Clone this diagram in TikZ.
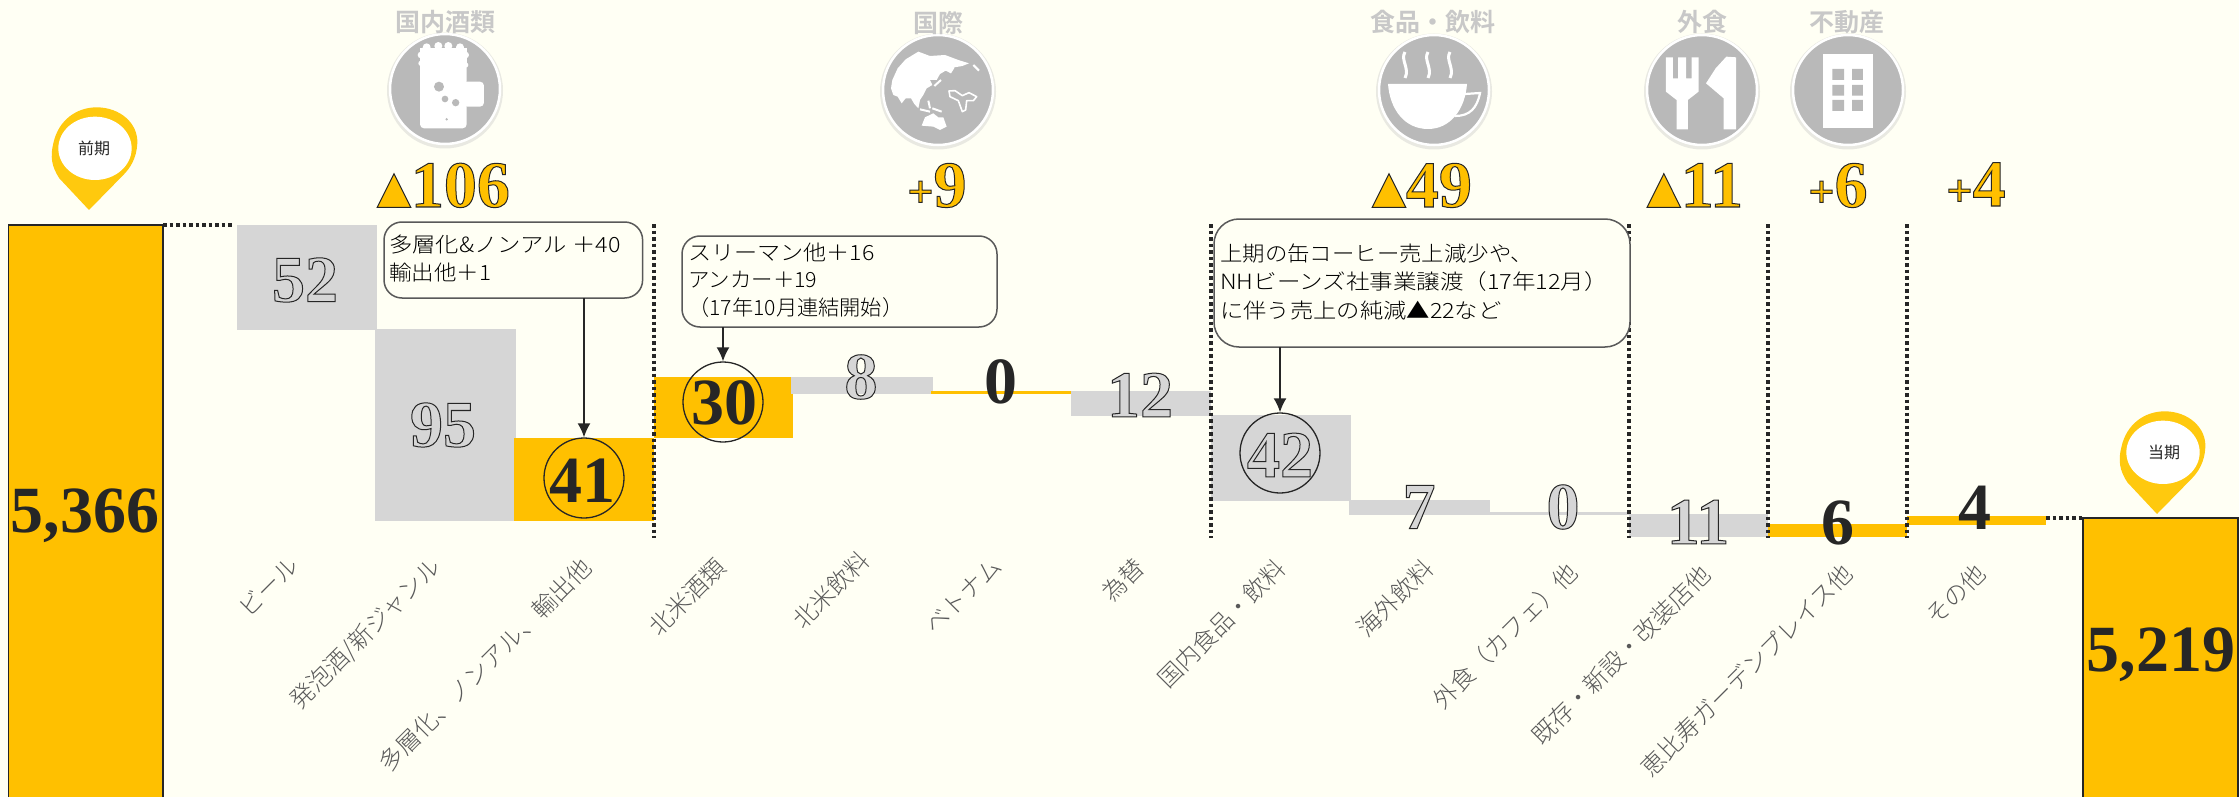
\documentclass[tikz,border=0pt]{standalone}
\usepackage{fontspec}
\usetikzlibrary{arrows.meta}
\newfontfamily\jpfont{Noto Sans CJK JP Light}
\newfontfamily\jpbold{Noto Sans CJK JP}
\newfontfamily\catfont{Noto Sans CJK JP Bold}
\newfontfamily\numfont{Liberation Serif Bold}
\newfontfamily\blkfont{Liberation Serif Bold}
\newfontfamily\trifont{DejaVu Sans}
\definecolor{bgc}{HTML}{FFFFF4}
\definecolor{orng}{HTML}{FFC000}
\definecolor{barg}{HTML}{D6D6D6}
\definecolor{darkc}{HTML}{262626}
\definecolor{iconc}{HTML}{B9B9B9}
\definecolor{catc}{HTML}{C8C8C8}
\definecolor{lblc}{HTML}{595959}
\definecolor{pinc}{HTML}{FFC90E}
\definecolor{shad}{HTML}{E9E9E2}
\newcommand{\gnum}[1]{\color{barg}\special{pdf:code 2 Tr 1.0 w 0.15 0.15 0.15 RG}#1\special{pdf:code 0 Tr}}
\newcommand{\snum}[1]{\color{orng}\special{pdf:code 2 Tr 1.0 w 0.15 0.15 0.15 RG}#1\special{pdf:code 0 Tr}}
\newcommand{\tsign}{{\trifont\fontsize{44}{44}\selectfont\raisebox{5pt}{▲}}}
\newcommand{\psign}{{\numfont\fontsize{46}{46}\selectfont +}}
\tikzset{
  x=1pt,y=-1pt,
  graybar/.style={fill=barg,draw=none},
  orngbar/.style={fill=orng,draw=none},
  totalbar/.style={fill=orng,draw=darkc,line width=1.5pt},
  dots/.style={draw=darkc,line width=4pt,dash pattern=on 3.5pt off 3pt},
  blacknum/.style={font=\blkfont\fontsize{66}{66}\selectfont,text=darkc,inner sep=0pt},
  graynum/.style={font=\numfont\fontsize{66}{66}\selectfont,inner sep=0pt},
  sumnum/.style={font=\numfont\fontsize{66}{66}\selectfont,inner sep=0pt,anchor=base},
  callout/.style={draw=lblc,line width=1.5pt,rounded corners=18pt,fill=bgc},
  calltext/.style={font=\jpfont\fontsize{21}{21}\selectfont,text=black,anchor=west,inner sep=0pt,transform shape},
  ring/.style={circle,draw=darkc,line width=1.3pt,minimum size=80pt,inner sep=0pt},
  cat/.style={font=\catfont\fontsize{25}{25}\selectfont,text=catc,inner sep=0pt},
  lbl/.style={font=\jpfont\fontsize{24}{24}\selectfont,text=lblc,rotate=45,anchor=east,inner sep=0pt},
  arr/.style={draw=darkc,line width=1.8pt,-{Latex[length=14pt,width=13pt]}},
  disc/.style={fill=iconc,draw=white,line width=2.5pt},
  icw/.style={fill=white,draw=none},
  pintext/.style={font=\jpbold\fontsize{16}{16}\selectfont,text=darkc,inner sep=0pt},
  pinshape/.pic={
    \begin{scope}[x=0.3333pt,y=-0.3333pt]
    \fill[pinc] (147,330) -- (58,235) .. controls (35,200) and (30,170) .. (40,130) .. controls (55,60) and (110,22) .. (170,22) .. controls (240,22) and (295,70) .. (292,130) .. controls (290,175) and (270,205) .. (250,225) -- cycle;
    \fill[white] (165,145) ellipse (110 and 95);
    \end{scope}
  },
}
\begin{document}
\begin{tikzpicture}
\useasboundingbox (0,0) rectangle (2239,797);
\fill[bgc] (0,0) rectangle (2239,797);
% bars
\draw[totalbar] (8.6,225) rectangle (163,798);
\draw[totalbar] (2083,518) rectangle (2238,798);
\fill[graybar] (237,225) rectangle (376.6,330);
\fill[graybar] (375,329) rectangle (516,521);
\fill[orngbar] (514,438) rectangle (654,521);
\fill[orngbar] (654,377) rectangle (793,438);
\fill[graybar] (791,377) rectangle (933,394);
\fill[orngbar] (931,391) rectangle (1071,394);
\fill[graybar] (1071,391) rectangle (1211,416);
\fill[graybar] (1211,415) rectangle (1350.5,501);
\fill[graybar] (1349,500) rectangle (1490,515);
\fill[graybar] (1490,512) rectangle (1629,515);
\fill[graybar] (1629,514) rectangle (1768,537);
\fill[orngbar] (1768,524) rectangle (1907,537);
\fill[orngbar] (1907,516) rectangle (2046,525);
% dotted
\coordinate (d1a) at (163,225); \coordinate (d1b) at (232,225);
\coordinate (d2a) at (2046,518); \coordinate (d2b) at (2083,518);
\draw[dots] (d1a) -- (d1b);
\draw[dots] (d2a) -- (d2b);
\foreach \X in {654,1211,1629,1768,1907}{\draw[dots] (\X,224) -- (\X,538);}
% icons
\foreach \X/\Y in {445/89,938/90,1434/90,1702/90,1848/90}{
  \fill[shad] (\X,\Y+1.5) circle (58);
  \draw[disc] (\X,\Y) circle (55);
}
% beer
\begin{scope}[shift={(385,30)},x=0.3333pt,y=-0.3333pt]
\fill[icw,rounded corners=4pt] (105,90) rectangle (245,295);
\fill[icw,rounded corners=4pt] (235,155) rectangle (297,230);
\fill[icw] (125,52) circle (12) (160,48) circle (12) (190,48) circle (12) (225,52) circle (12) (108,75) circle (10) (242,75) circle (10) (108,100) circle (8) (242,105) circle (8);
\fill[icw] (104,55) rectangle (246,110);
\fill[iconc] (162,170) circle (15) (180,207) circle (10) (212,218) circle (11) (185,268) circle (4);
\end{scope}
% globe
\begin{scope}[shift={(875,30)},x=0.3333pt,y=-0.3333pt]
\fill[icw] (48,175) -- (52,150) -- (68,115) -- (92,88) -- (130,65) -- (165,78) -- (210,75) -- (250,90) -- (282,100) -- (262,108) -- (238,112) -- (228,130) -- (212,122) -- (195,132) -- (185,150) -- (165,150) -- (172,165) -- (155,175) -- (145,195) -- (135,210) -- (130,235) -- (118,222) -- (108,205) -- (92,205) -- (80,220) -- (68,200) -- (55,195) -- cycle;
\fill[icw] (140,287) -- (150,262) -- (175,250) -- (190,262) -- (205,262) -- (215,290) -- (195,300) -- (175,290) -- cycle;
\draw[white,line width=2pt] (178,168) -- (198,150) (225,128) -- (236,112) (135,238) -- (165,245) (160,212) -- (165,235) (172,235) -- (200,245) (295,105) -- (312,122);
\draw[white,line width=1.6pt,fill=iconc,line join=round] (222,183) -- (240,182) -- (262,197) -- (282,188) -- (305,200) -- (295,212) -- (275,212) -- (272,240) -- (262,245) -- (250,212) -- (225,200) -- cycle;
\end{scope}
% coffee
\fill[icw] (1388,84) -- (1467,84) .. controls (1465,110) and (1450,129) .. (1428,129) .. controls (1405,129) and (1390,110) .. (1388,84) -- cycle;
\draw[white,line width=2.2pt] (1465,94) -- (1480,93) .. controls (1477,108) and (1470,116) .. (1455,116);
\foreach \X in {1405,1428,1450}{\draw[white,line width=3pt] (\X,52) .. controls (\X-5,60) and (\X+5,68) .. (\X,78);}
% fork and knife
\begin{scope}[shift={(1400,0)},x=0.535pt,y=-0.3333pt]
\fill[icw] (497,172) -- (510,172) -- (510,235) -- (520,235) -- (520,172) -- (535,172) -- (535,235) -- (545,235) -- (545,172) -- (558,172) -- (558,275) -- (538,300) -- (538,388) -- (517,388) -- (517,300) -- (497,275) -- cycle;
\fill[icw] (610,170) -- (628,172) -- (628,388) -- (605,388) -- (605,295) -- (572,250) -- (590,205) -- cycle;
\fill[icw] (790,163) rectangle (885,383);
\fill[iconc] (808,207) rectangle (830,240) (845,207) rectangle (865,240) (808,255) rectangle (830,287) (845,255) rectangle (865,287) (808,300) rectangle (830,333) (845,300) rectangle (865,333);
\end{scope}
% category labels
\node[cat] (c1) at (445,22) {国内酒類};
\node[cat] (c2) at (938,23) {国際};
\node[cat] (c3) at (1433,22) {食品・飲料};
\node[cat] (c4) at (1702,22) {外食};
\node[cat] (c5) at (1847,22) {不動産};
% totals
\node[sumnum] (s1) at (443.5,207) {\snum{\tsign 106}};
\node[sumnum] (s2) at (937,207) {\snum{\psign 9}};
\node[sumnum] (s3) at (1422,207) {\snum{\tsign 49}};
\node[sumnum] (s4) at (1695,207) {\snum{\tsign 11}};
\node[sumnum] (s5) at (1838,207) {\snum{\psign 6}};
\node[sumnum] (s6) at (1976,206) {\snum{\psign 4}};
% rings
\node[ring] (r41) at (584,478) {};
\node[ring] (r30) at (723,402) {};
\node[ring] (r42) at (1280,453) {};
% callouts
\draw[callout] (384,222) rectangle (642.6,298);
\coordinate (b1) at (584,298);
\draw[callout] (682,236) rectangle (997,327);
\coordinate (b2) at (723,327);
\draw[callout,rounded corners=25pt] (1214,219) rectangle (1630,347);
\coordinate (b3) at (1280,347);
\draw[arr] (b1) -- (r41.north);
\draw[arr] (b2) -- (r30.north);
\draw[arr] (b3) -- (r42.north);
\node[calltext,xscale=1.11] (t11) at (389,245) {多層化\&ノンアル ＋40};
\node[calltext,xscale=1.07] (t12) at (389,273) {輸出他＋1};
\node[calltext,xscale=1.10] (t21) at (688,252) {スリーマン他＋16};
\node[calltext,xscale=1.02] (t22) at (688,280) {アンカー＋19};
\node[calltext,xscale=1.01] (t23) at (688,308) {（17年10月連結開始）};
\node[calltext,xscale=1.067] (t31) at (1220,254) {上期の缶コーヒー売上減少や、};
\node[calltext,xscale=1.12] (t32) at (1220,282) {NHビーンズ社事業譲渡（17年12月）};
\node[calltext,xscale=1.11] (t33) at (1220,311) {に伴う売上の純減▲22など};
% bar numbers
\node[graynum] (n52) at (305,280) {\gnum{52}};
\node[graynum] (n95) at (443,425) {\gnum{95}};
\node[blacknum] (n41) at (582,481) {41};
\node[blacknum] (n30) at (724,403) {30};
\node[graynum] (n8) at (861,377) {\gnum{8}};
\node[blacknum] (n0a) at (1001,382) {0};
\node[graynum] (n12) at (1140,395) {\gnum{12}};
\node[graynum] (n42) at (1280,455) {\gnum{42}};
\node[graynum] (n7) at (1419,507) {\gnum{7}};
\node[graynum] (n0b) at (1563,507) {\gnum{0}};
\node[graynum] (n11) at (1698,522) {\gnum{11}};
\node[blacknum] (n6) at (1838,523) {6};
\node[blacknum] (n4) at (1975,508) {4};
\node[blacknum] (n5366) at (85,516) {5,366};
\node[blacknum] (n5219) at (2161,655) {5,219};
% axis labels
\node[lbl] (l1) at (294,561) {ビール};
\node[lbl] (l2) at (437,563) {発泡酒/新ジャンル};
\node[lbl] (l3) at (587,563) {多層化、ノンアル、輸出他};
\node[lbl] (l4) at (721,563) {北米酒類};
\node[lbl] (l5) at (865,556) {北米飲料};
\node[lbl] (l6) at (997,562) {ベトナム};
\node[lbl] (l7) at (1140,563) {為替};
\node[lbl] (l8) at (1281,564) {国内食品・飲料};
\node[lbl] (l9) at (1429,564) {海外飲料};
\node[lbl] (l10) at (1573,568) {外食（カフェ）他};
\node[lbl] (l11) at (1706,570) {既存・新設・改装店他};
\node[lbl] (l12) at (1848,569) {恵比寿ガーデンプレイス他};
\node[lbl] (l13) at (1981,569) {その他};
% pins
\pic at (40,100) {pinshape};
\node[pintext] (p1) at (94,148) {前期};
\pic at (2108,404) {pinshape};
\node[pintext] (p2) at (2164,452) {当期};
\end{tikzpicture}
\end{document}
